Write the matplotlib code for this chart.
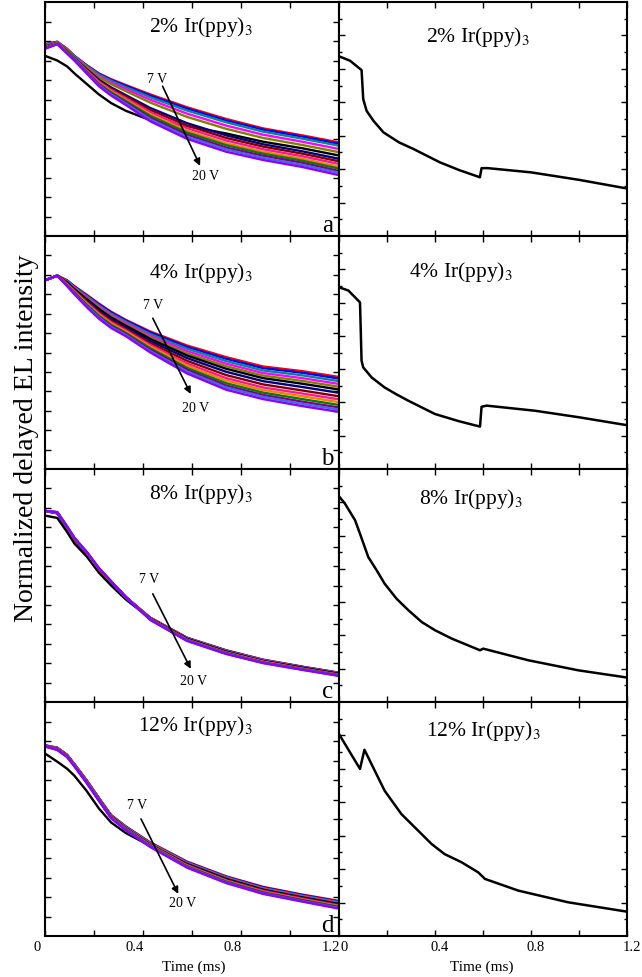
import matplotlib
matplotlib.use("Agg")
import matplotlib.pyplot as plt
from matplotlib.ticker import FixedLocator, NullFormatter
from matplotlib.transforms import ScaledTranslation

plt.rcParams['font.family'] = ['Liberation Serif', 'DejaVu Serif']
plt.rcParams['mathtext.fontset'] = 'stix'

# ---------------- data ----------------
voltages = [7, 8, 9, 10, 11, 12, 13, 14, 15, 16, 17, 18, 19, 20]
colors = ['#FF0000', '#0000FF', '#008B8B', '#FF00FF', '#808000', '#000000', '#000080',
          '#800000', '#FF1493', '#FF8000', '#008000', '#800080', '#4169E1', '#8B00FF']

time_left = [0, 0.05, 0.09, 0.12, 0.17, 0.22, 0.27, 0.33, 0.43, 0.58, 0.74, 0.89, 1.05, 1.2]

curves_2pct = [
    [0.820, 0.830, 0.800, 0.770, 0.730, 0.695, 0.670, 0.645, 0.605, 0.550, 0.500, 0.460, 0.430, 0.400],
    [0.819, 0.830, 0.799, 0.769, 0.729, 0.693, 0.667, 0.642, 0.600, 0.545, 0.494, 0.455, 0.425, 0.394],
    [0.818, 0.829, 0.798, 0.768, 0.727, 0.690, 0.663, 0.636, 0.593, 0.536, 0.486, 0.446, 0.416, 0.386],
    [0.816, 0.828, 0.796, 0.766, 0.723, 0.684, 0.656, 0.628, 0.582, 0.523, 0.472, 0.433, 0.403, 0.372],
    [0.814, 0.827, 0.794, 0.764, 0.720, 0.679, 0.649, 0.619, 0.570, 0.509, 0.458, 0.419, 0.389, 0.358],
    [0.770, 0.750, 0.725, 0.695, 0.650, 0.605, 0.568, 0.535, 0.495, 0.470, 0.438, 0.403, 0.375, 0.344],
    [0.810, 0.825, 0.790, 0.760, 0.713, 0.668, 0.635, 0.602, 0.547, 0.482, 0.430, 0.392, 0.362, 0.330],
    [0.808, 0.824, 0.788, 0.758, 0.710, 0.663, 0.629, 0.596, 0.538, 0.472, 0.419, 0.382, 0.352, 0.319],
    [0.807, 0.823, 0.787, 0.757, 0.707, 0.659, 0.624, 0.589, 0.529, 0.461, 0.408, 0.371, 0.341, 0.308],
    [0.805, 0.823, 0.785, 0.755, 0.704, 0.654, 0.618, 0.582, 0.520, 0.450, 0.396, 0.360, 0.330, 0.296],
    [0.804, 0.822, 0.784, 0.754, 0.702, 0.651, 0.614, 0.577, 0.513, 0.442, 0.388, 0.352, 0.322, 0.288],
    [0.803, 0.821, 0.783, 0.753, 0.700, 0.647, 0.609, 0.571, 0.505, 0.433, 0.378, 0.343, 0.313, 0.278],
    [0.801, 0.821, 0.781, 0.751, 0.697, 0.644, 0.605, 0.566, 0.498, 0.424, 0.370, 0.334, 0.304, 0.270],
    [0.800, 0.820, 0.780, 0.750, 0.695, 0.640, 0.600, 0.560, 0.490, 0.415, 0.360, 0.325, 0.295, 0.260],
]

curves_4pct = [
    [0.81, 0.83, 0.810, 0.785, 0.748, 0.710, 0.675, 0.640, 0.590, 0.530, 0.480, 0.440, 0.420, 0.395],
    [0.81, 0.83, 0.809, 0.783, 0.745, 0.707, 0.672, 0.637, 0.586, 0.524, 0.473, 0.433, 0.413, 0.388],
    [0.81, 0.83, 0.807, 0.781, 0.742, 0.702, 0.667, 0.632, 0.579, 0.516, 0.463, 0.423, 0.402, 0.377],
    [0.81, 0.83, 0.805, 0.778, 0.737, 0.697, 0.661, 0.626, 0.572, 0.506, 0.452, 0.412, 0.390, 0.365],
    [0.81, 0.83, 0.803, 0.775, 0.733, 0.692, 0.655, 0.620, 0.565, 0.496, 0.441, 0.401, 0.378, 0.353],
    [0.81, 0.83, 0.801, 0.772, 0.729, 0.687, 0.650, 0.615, 0.558, 0.487, 0.430, 0.390, 0.366, 0.341],
    [0.81, 0.83, 0.799, 0.769, 0.724, 0.681, 0.644, 0.608, 0.549, 0.476, 0.417, 0.377, 0.352, 0.327],
    [0.81, 0.83, 0.796, 0.766, 0.719, 0.674, 0.637, 0.601, 0.540, 0.464, 0.403, 0.363, 0.337, 0.312],
    [0.81, 0.83, 0.794, 0.763, 0.714, 0.668, 0.630, 0.595, 0.532, 0.453, 0.390, 0.350, 0.324, 0.299],
    [0.81, 0.83, 0.792, 0.760, 0.710, 0.663, 0.625, 0.590, 0.525, 0.444, 0.379, 0.339, 0.312, 0.287],
    [0.81, 0.83, 0.790, 0.757, 0.706, 0.658, 0.619, 0.584, 0.518, 0.434, 0.368, 0.328, 0.300, 0.275],
    [0.81, 0.83, 0.788, 0.755, 0.702, 0.653, 0.614, 0.579, 0.512, 0.426, 0.358, 0.318, 0.289, 0.264],
    [0.81, 0.83, 0.787, 0.752, 0.699, 0.650, 0.610, 0.575, 0.506, 0.418, 0.350, 0.310, 0.280, 0.255],
    [0.81, 0.83, 0.785, 0.750, 0.695, 0.645, 0.605, 0.570, 0.500, 0.410, 0.340, 0.300, 0.270, 0.245],
]

curves_8pct = [
    [0.82, 0.810, 0.746, 0.695, 0.635, 0.565, 0.513, 0.45, 0.362, 0.276, 0.222, 0.182, 0.152, 0.126],
    [0.82, 0.810, 0.747, 0.696, 0.636, 0.566, 0.513, 0.45, 0.361, 0.275, 0.221, 0.181, 0.151, 0.125],
    [0.82, 0.811, 0.747, 0.697, 0.637, 0.567, 0.514, 0.45, 0.360, 0.274, 0.220, 0.180, 0.150, 0.124],
    [0.82, 0.811, 0.748, 0.697, 0.637, 0.567, 0.514, 0.45, 0.360, 0.273, 0.218, 0.179, 0.149, 0.123],
    [0.82, 0.812, 0.748, 0.698, 0.638, 0.568, 0.515, 0.45, 0.359, 0.272, 0.217, 0.177, 0.148, 0.122],
    [0.80, 0.790, 0.730, 0.680, 0.625, 0.555, 0.500, 0.44, 0.358, 0.271, 0.216, 0.176, 0.147, 0.121],
    [0.82, 0.812, 0.750, 0.700, 0.640, 0.570, 0.515, 0.45, 0.357, 0.270, 0.215, 0.175, 0.146, 0.120],
    [0.82, 0.813, 0.750, 0.700, 0.640, 0.570, 0.516, 0.45, 0.357, 0.268, 0.213, 0.174, 0.144, 0.118],
    [0.82, 0.813, 0.751, 0.701, 0.641, 0.571, 0.516, 0.45, 0.356, 0.267, 0.212, 0.173, 0.143, 0.117],
    [0.82, 0.813, 0.752, 0.702, 0.642, 0.572, 0.516, 0.45, 0.355, 0.266, 0.211, 0.172, 0.142, 0.116],
    [0.82, 0.814, 0.752, 0.703, 0.643, 0.573, 0.517, 0.45, 0.354, 0.265, 0.210, 0.170, 0.141, 0.115],
    [0.82, 0.814, 0.753, 0.703, 0.643, 0.573, 0.517, 0.45, 0.354, 0.264, 0.208, 0.169, 0.140, 0.114],
    [0.82, 0.815, 0.753, 0.704, 0.644, 0.574, 0.518, 0.45, 0.353, 0.263, 0.207, 0.168, 0.139, 0.113],
    [0.82, 0.815, 0.754, 0.705, 0.645, 0.575, 0.518, 0.45, 0.352, 0.262, 0.206, 0.167, 0.138, 0.112],
]

curves_12pct = [
    [0.815, 0.805, 0.775, 0.735, 0.666, 0.590, 0.517, 0.468, 0.400, 0.318, 0.255, 0.210, 0.177, 0.150],
    [0.815, 0.804, 0.774, 0.734, 0.665, 0.589, 0.516, 0.467, 0.398, 0.316, 0.253, 0.208, 0.175, 0.147],
    [0.814, 0.803, 0.773, 0.733, 0.664, 0.588, 0.515, 0.466, 0.397, 0.314, 0.251, 0.205, 0.172, 0.145],
    [0.814, 0.803, 0.773, 0.733, 0.663, 0.587, 0.514, 0.464, 0.395, 0.312, 0.248, 0.203, 0.170, 0.142],
    [0.813, 0.802, 0.772, 0.732, 0.662, 0.586, 0.513, 0.463, 0.394, 0.310, 0.246, 0.201, 0.168, 0.140],
    [0.780, 0.745, 0.715, 0.685, 0.620, 0.545, 0.485, 0.440, 0.385, 0.308, 0.244, 0.198, 0.165, 0.137],
    [0.813, 0.800, 0.770, 0.730, 0.660, 0.584, 0.511, 0.461, 0.391, 0.306, 0.242, 0.196, 0.163, 0.135],
    [0.812, 0.800, 0.770, 0.730, 0.660, 0.584, 0.509, 0.459, 0.389, 0.304, 0.239, 0.194, 0.161, 0.132],
    [0.812, 0.799, 0.769, 0.729, 0.659, 0.583, 0.508, 0.458, 0.388, 0.302, 0.237, 0.192, 0.159, 0.130],
    [0.812, 0.798, 0.768, 0.728, 0.658, 0.582, 0.507, 0.457, 0.386, 0.300, 0.235, 0.189, 0.156, 0.127],
    [0.811, 0.797, 0.767, 0.727, 0.657, 0.581, 0.506, 0.456, 0.385, 0.298, 0.233, 0.187, 0.154, 0.125],
    [0.811, 0.797, 0.767, 0.727, 0.656, 0.580, 0.505, 0.454, 0.383, 0.296, 0.230, 0.185, 0.152, 0.122],
    [0.810, 0.796, 0.766, 0.726, 0.655, 0.579, 0.504, 0.453, 0.382, 0.294, 0.228, 0.182, 0.149, 0.120],
    [0.810, 0.795, 0.765, 0.725, 0.654, 0.578, 0.503, 0.452, 0.380, 0.292, 0.226, 0.180, 0.147, 0.117],
]

right_2pct_t = [0, 0.046, 0.094, 0.101, 0.115, 0.143, 0.185, 0.25, 0.31, 0.42, 0.50,
                0.587, 0.594, 0.62, 0.80, 1.00, 1.20]
right_2pct_v = [0.768, 0.749, 0.709, 0.585, 0.535, 0.493, 0.443, 0.40, 0.372, 0.315, 0.282,
                0.251, 0.29, 0.29, 0.272, 0.24, 0.203]

right_4pct_t = [0, 0.039, 0.0875, 0.094, 0.101, 0.136, 0.19, 0.24, 0.289, 0.40, 0.50,
                0.5875, 0.594, 0.615, 0.817, 1.0, 1.2]
right_4pct_v = [0.78, 0.766, 0.715, 0.465, 0.436, 0.393, 0.35, 0.32, 0.293, 0.236, 0.205,
                0.182, 0.267, 0.272, 0.25, 0.222, 0.188]

right_8pct_t = [0, 0.025, 0.067, 0.0875, 0.122, 0.157, 0.19, 0.24, 0.289, 0.345, 0.40,
                0.47, 0.5875, 0.601, 0.789, 0.997, 1.2]
right_8pct_v = [0.883, 0.851, 0.78, 0.722, 0.622, 0.565, 0.508, 0.443, 0.394, 0.343, 0.308,
                0.272, 0.222, 0.229, 0.179, 0.136, 0.105]

right_12pct_t = [0, 0.0875, 0.106, 0.19, 0.26, 0.33, 0.386, 0.44, 0.511, 0.58, 0.608,
                 0.747, 0.955, 1.2]
right_12pct_v = [0.863, 0.714, 0.796, 0.621, 0.521, 0.45, 0.393, 0.35, 0.315, 0.272, 0.244,
                 0.194, 0.144, 0.104]

titles = ['2% Ir(ppy)$_3$', '4% Ir(ppy)$_3$', '8% Ir(ppy)$_3$', '12% Ir(ppy)$_3$']
letters = ['a', 'b', 'c', 'd']
x_tick_values = [0, 0.4, 0.8, 1.2]
x_tick_labels = ['0', '0.4', '0.8', '1.2']
y_label = 'Normalized delayed EL intensity'
x_label = 'Time (ms)'

left_sets = [curves_2pct, curves_4pct, curves_8pct, curves_12pct]
right_sets = [(right_2pct_t, right_2pct_v), (right_4pct_t, right_4pct_v),
              (right_8pct_t, right_8pct_v), (right_12pct_t, right_12pct_v)]

# ---------------- layout ----------------
W, H = 642, 978
fig = plt.figure(figsize=(W / 100, H / 100), dpi=100)

row_px = [(3, 237), (237, 470), (470, 703), (703, 937)]
left_px = (45, 339)
right_px = (339, 627)

# annotation layout (data coordinates): 7V text, arrow tail, arrow head, 20V text
arrow_layout = [
    ((0.456, 0.671), (0.48, 0.64), (0.633, 0.30), (0.656, 0.258)),
    ((0.44, 0.708), (0.44, 0.647), (0.595, 0.322), (0.615, 0.265)),
    ((0.425, 0.528), (0.44, 0.464), (0.595, 0.142), (0.605, 0.092)),
    ((0.377, 0.56), (0.392, 0.50), (0.544, 0.18), (0.562, 0.144)),
]
left_title_pos = [(0.707, 0.877), (0.707, 0.823), (0.707, 0.874), (0.707, 0.882)]
right_title_pos = [(0.663, 0.835), (0.604, 0.830), (0.639, 0.854), (0.698, 0.859)]


def make_axes(xpx, ypx):
    x0, x1 = xpx
    y0, y1 = ypx
    return fig.add_axes([x0 / W, 1 - y1 / H, (x1 - x0) / W, (y1 - y0) / H])


def style_axes(ax, yticks_major, yticks_minor, bottom, shift_px):
    ax.set_xlim(0, 1.2)
    ax.set_ylim(0, 1)
    for sp in ax.spines.values():
        sp.set_linewidth(1.5)
    ax.xaxis.set_major_locator(FixedLocator(x_tick_values))
    ax.xaxis.set_minor_locator(FixedLocator([0.2, 0.6, 1.0]))
    ax.yaxis.set_major_locator(FixedLocator(yticks_major))
    ax.yaxis.set_minor_locator(FixedLocator(yticks_minor))
    ax.yaxis.set_major_formatter(NullFormatter())
    ax.tick_params(which='both', direction='in', top=True, right=True, width=1.0)
    ax.tick_params(which='major', length=4)
    ax.tick_params(which='minor', length=4)
    if bottom:
        ax.set_xticklabels(x_tick_labels, fontsize=10.5)
        ax.tick_params(axis='x', which='major', pad=3)
        off = ScaledTranslation(shift_px / 100, 0, fig.dpi_scale_trans)
        for lab in ax.get_xticklabels():
            lab.set_transform(lab.get_transform() + off)
    else:
        ax.xaxis.set_major_formatter(NullFormatter())


left_major = [k / 12 for k in range(1, 12)]
right_major = [k / 7 for k in range(1, 7)]
right_minor = [(2 * k + 1) / 14 for k in range(7)]

for i in range(4):
    axl = make_axes(left_px, row_px[i])
    for k, (v, col) in enumerate(zip(voltages, colors)):
        axl.plot(time_left, left_sets[i][k], color=col, lw=1.7,
                 solid_joinstyle='round', label=f'{v} V')
    style_axes(axl, left_major, [], i == 3, -8)
    t7, a0, a1, t20 = arrow_layout[i]
    axl.text(t7[0], t7[1], '7 V', fontsize=10, ha='center', va='center')
    axl.text(t20[0], t20[1], '20 V', fontsize=10, ha='center', va='center')
    axl.annotate('', xy=a1, xytext=a0,
                 arrowprops=dict(arrowstyle='-|>', color='black', lw=1.2,
                                 mutation_scale=10, shrinkA=0, shrinkB=0))
    tx, ty = left_title_pos[i]
    axl.text(tx, ty, titles[i], transform=axl.transAxes, fontsize=15.5,
             ha='right', va='baseline')
    axl.text(0.96, 0.02, letters[i], transform=axl.transAxes, fontsize=18,
             ha='center', va='baseline')

    axr = make_axes(right_px, row_px[i])
    rt, rv = right_sets[i]
    axr.plot(rt, rv, color='black', lw=1.8, solid_joinstyle='round')
    style_axes(axr, right_major, right_minor, i == 3, 5)
    axr.tick_params(axis='y', which='minor', length=2.5)
    tx, ty = right_title_pos[i]
    axr.text(tx, ty, titles[i], transform=axr.transAxes, fontsize=15.5,
             ha='right', va='baseline')

fig.text(27 / W, 1 - 438 / H, y_label, rotation=90, fontsize=20,
         ha='center', va='center')
fig.text(194 / W, 1 - 967 / H, x_label, fontsize=11, ha='center', va='center')
fig.text(482 / W, 1 - 967 / H, x_label, fontsize=11, ha='center', va='center')

fig.savefig('out.png', dpi=100)
